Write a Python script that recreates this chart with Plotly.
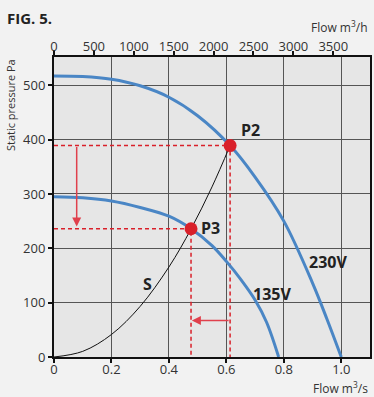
import plotly.graph_objects as go

# Fan curve 230V (flow m3/s, static pressure Pa)
q230 = [0.0, 0.1, 0.2, 0.3, 0.4, 0.5, 0.613, 0.7, 0.8, 0.9, 0.95, 1.0]
p230 = [517, 516, 511, 499, 478, 444, 389, 331, 250, 136, 70, 0]
# Fan curve 135V
q135 = [0.0, 0.1, 0.2, 0.3, 0.4, 0.477, 0.55, 0.6, 0.65, 0.7, 0.74, 0.782]
p135 = [295, 293, 287, 275, 259, 236, 205, 176, 143, 105, 64, 0]
# System curve S
qS = [0.0, 0.1, 0.2, 0.3, 0.4, 0.477, 0.55, 0.613]
pS = [0, 10.4, 41.4, 93.2, 165.6, 235.5, 313, 389]
# Operating points
pts_q = [0.613, 0.477]
pts_p = [389, 236]

x_ticks = [0, 0.2, 0.4, 0.6, 0.8, 1.0]
x_tick_text = ["0", "0.2", "0.4", "0.6", "0.8", "1.0"]
x2_ticks = [0, 500, 1000, 1500, 2000, 2500, 3000, 3500]
y_ticks = [0, 100, 200, 300, 400, 500]

RED = "#d9202a"
BLUE = "#4a86c5"
FONT = "Open Sans"

fig = go.Figure()

# dashed guides
for q, p in zip(pts_q, pts_p):
    fig.add_trace(go.Scatter(x=[0, q, q], y=[p, p, 0], mode="lines",
                             line=dict(color=RED, width=1.5, dash="4px,3px"),
                             hoverinfo="skip", showlegend=False))

fig.add_trace(go.Scatter(x=qS, y=pS, mode="lines", line=dict(color="#111", width=1, shape="spline"),
                         showlegend=False))
fig.add_trace(go.Scatter(x=q230, y=p230, mode="lines", line=dict(color=BLUE, width=3, shape="spline", smoothing=1.0),
                         showlegend=False))
fig.add_trace(go.Scatter(x=q135, y=p135, mode="lines", line=dict(color=BLUE, width=3, shape="spline", smoothing=1.0),
                         showlegend=False))
fig.add_trace(go.Scatter(x=pts_q, y=pts_p, mode="markers", marker=dict(color=RED, size=13),
                         showlegend=False))
# invisible trace to activate top axis
fig.add_trace(go.Scatter(x=[0, 3960], y=[0, 0], xaxis="x2", mode="markers",
                         marker=dict(opacity=0), showlegend=False, hoverinfo="skip"))

lab_font = dict(family=FONT, size=16, color="#222")
for x, y, t in [(0.683, 417, "P2"), (0.546, 238, "P3"), (0.324, 135, "S"),
                (0.955, 175, "230V"), (0.76, 116, "135V")]:
    fig.add_annotation(x=x, y=y, text=f"<b>{t}</b>", showarrow=False, font=lab_font, xref="x", yref="y")

# arrows
fig.add_annotation(x=0.079, y=240, ax=0.079, ay=389, axref="x", ayref="y", xref="x", yref="y",
                   text="", showarrow=True, arrowhead=2, arrowsize=1.2, arrowwidth=1.5, arrowcolor="#e0404c")
fig.add_annotation(x=0.48, y=67, ax=0.613, ay=67, axref="x", ayref="y", xref="x", yref="y",
                   text="", showarrow=True, arrowhead=2, arrowsize=1.2, arrowwidth=1.5, arrowcolor="#e0404c")

# titles
fig.add_annotation(text="<b>FIG. 5.</b>", xref="paper", yref="paper", x=-0.155, y=1.13,
                   xanchor="left", yanchor="middle", showarrow=False,
                   font=dict(family=FONT, size=15, color="#222"))
fig.add_annotation(text="Flow m<sup>3</sup>/h", xref="paper", yref="paper", x=1.0, y=1.1,
                   xanchor="right", yanchor="middle", showarrow=False,
                   font=dict(family=FONT, size=12, color="#333"))
fig.add_annotation(text="Flow m<sup>3</sup>/s", xref="paper", yref="paper", x=1.0, y=-0.103,
                   xanchor="right", yanchor="middle", showarrow=False,
                   font=dict(family=FONT, size=12, color="#333"))
fig.add_annotation(text="Static pressure Pa", xref="paper", yref="paper", x=-0.139, y=1.0,
                   xanchor="center", yanchor="top", textangle=-90, showarrow=False,
                   font=dict(family=FONT, size=11, color="#333"))

axis_common = dict(showline=True, linecolor="#111", linewidth=2, ticks="outside", ticklen=4,
                   tickcolor="#111", tickwidth=1.5, zeroline=False, automargin=False,
                   tickfont=dict(family=FONT, size=13, color="#333"))

fig.update_layout(
    width=374, height=397,
    margin=dict(l=54, r=4, t=57, b=40, autoexpand=False),
    paper_bgcolor="#f2f2f2", plot_bgcolor="#e6e6e6",
    showlegend=False,
    xaxis=dict(range=[0, 1.1], tickvals=x_ticks, ticktext=x_tick_text, showgrid=True,
               gridcolor="#555", gridwidth=1, mirror=True, ticklabelstandoff=-5, **axis_common),
    xaxis2=dict(range=[0, 3960], tickvals=x2_ticks, overlaying="x", side="top", showgrid=False,
                ticklabelstandoff=-5, **axis_common),
    yaxis=dict(range=[0, 552], tickvals=y_ticks, showgrid=True, gridcolor="#555", gridwidth=1,
               mirror=True, **axis_common),
)

fig.write_html("out.html", config={"displayModeBar": False},
               post_script="document.body.style.margin='0';document.body.style.padding='0';document.body.style.overflow='hidden';")
